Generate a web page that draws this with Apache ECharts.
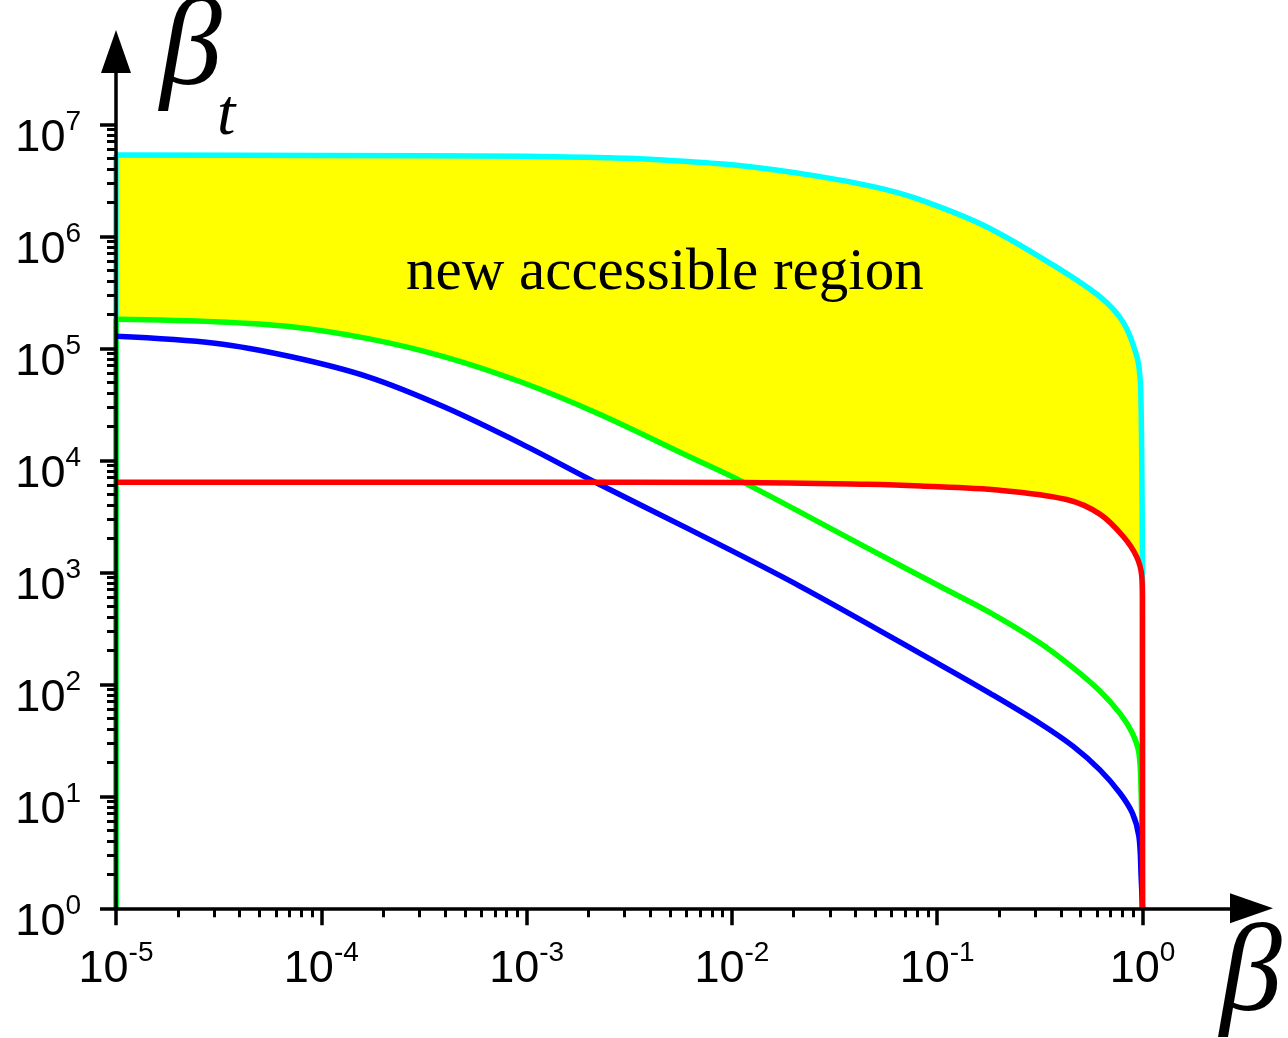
<!DOCTYPE html>
<html>
<head>
<meta charset="utf-8">
<script src="https://cdn.jsdelivr.net/npm/echarts@6/dist/echarts.min.js"></script>
<style>
  html, body { margin: 0; padding: 0; background: #ffffff; }
  #chart { width: 1288px; height: 1038px; }
</style>
</head>
<body>
<div id="chart"></div>
<script>
// Boundary curves in the (β, β_t) plane, each point is [β, β_t]
const cyanCurve = [
  [1e-5, 5.32e6], [1e-4, 5.26e6], [1e-3, 5.2e6], [2.55e-3, 5.02e6], [4e-3, 4.88e6],
  [0.01, 4.35e6], [0.026, 3.45e6], [0.05, 2.75e6], [0.079, 2.18e6], [0.167, 1.26e6],
  [0.355, 5.74e5], [0.62, 2.89e5], [0.81, 1.68e5], [0.94, 8.4e4], [0.975, 5.2e4],
  [0.985, 2.8e4], [0.993, 7.9e3], [0.998, 2.0e3], [0.9995, 630], [1, 1]
];
const greenCurve = [
  [1e-5, 1.82e5], [3.03e-5, 1.73e5], [7.14e-5, 1.56e5], [1.69e-4, 1.22e5], [3.98e-4, 8.4e4],
  [9.4e-4, 5.0e4], [2.21e-3, 2.63e4], [6.18e-3, 1.08e4], [0.0114, 6.35e3], [0.0453, 1.66e3],
  [0.103, 750], [0.181, 437], [0.317, 234], [0.46, 140], [0.62, 87], [0.776, 55],
  [0.892, 36.7], [0.961, 24.3], [0.985, 10.7], [0.997, 3], [1, 1]
];
const blueCurve = [
  [1e-5, 1.28e5], [3.03e-5, 1.11e5], [7.14e-5, 8.4e4], [1.69e-4, 5.56e4], [3.98e-4, 2.99e4],
  [9.4e-4, 1.41e4], [2.21e-3, 6.24e3], [6.18e-3, 2.43e3], [0.0215, 750], [0.103, 150],
  [0.181, 83], [0.317, 44.7], [0.46, 27.9], [0.62, 17.2], [0.776, 10.7], [0.892, 7.1],
  [0.961, 4.37], [0.985, 1.9], [1, 1]
];
const redCurve = [
  [1e-5, 6.38e3], [1e-3, 6.38e3], [0.0114, 6.35e3], [0.0453, 6.1e3], [0.083, 5.89e3],
  [0.202, 5.4e3], [0.427, 4.47e3], [0.62, 3.31e3], [0.806, 2.09e3], [0.936, 1.38e3],
  [0.992, 923], [0.9995, 575], [1, 1]
];

// β where the green and red curves meet (the lower edge of the shaded region switches there)
const crossBeta = 0.0114;

// Decade tick labels
const xMajorTicks = [1e-5, 1e-4, 1e-3, 1e-2, 1e-1, 1];
const yMajorTicks = [1, 10, 100, 1e3, 1e4, 1e5, 1e6, 1e7];

const regionLabel = 'new accessible region';

// Axis ranges (the extra room past the last decade holds the arrow heads)
const X_MIN = 9.999e-6, X_MAX = 3.396;
const Y_MIN = 0.9999, Y_MAX = 4.47e7;

function minorTicks(majors) {
  const out = [];
  for (let i = 0; i < majors.length - 1; i++) {
    for (let k = 2; k <= 9; k++) out.push(k * majors[i]);
  }
  return out;
}

const SANS = '"Liberation Sans", Arial, sans-serif';
const SERIF = '"Liberation Serif", "Times New Roman", serif';

function powLabel(v) {
  const e = Math.round(Math.log10(v));
  return '{b|10}{s|' + e + '}';
}
const powRich = {
  b: { fontSize: 45, lineHeight: 53, fontFamily: SANS, color: '#000', verticalAlign: 'bottom' },
  s: { fontSize: 28, lineHeight: 28, fontFamily: SANS, color: '#000', verticalAlign: 'top' }
};

const axisLineStyle = { color: '#000', width: 3.5 };

function baseAxis(extra) {
  return Object.assign({
    type: 'log',
    logBase: 10,
    gridIndex: 0,
    z: 5,
    splitLine: { show: false },
    minorTick: { show: false },
    minorSplitLine: { show: false }
  }, extra);
}

const chart = echarts.init(document.getElementById('chart'), null, { renderer: 'canvas' });

// Shaded region: upper edge is the cyan curve, lower edge is green up to crossBeta, then red
function fillPoints(api) {
  const upper = cyanCurve.filter(p => p[0] < 1);
  const lowerRed = redCurve.filter(p => p[0] >= crossBeta && p[0] < 1).reverse();
  const lowerGreen = greenCurve.filter(p => p[0] < crossBeta).reverse();
  return upper.concat(lowerRed, lowerGreen).map(p => api.coord(p));
}

function lineSeries(name, data, color, smooth) {
  return {
    name: name,
    type: 'line',
    data: data,
    smooth: smooth,
    showSymbol: false,
    symbol: 'none',
    clip: false,
    z: 3,
    lineStyle: { color: color, width: 5.5, cap: 'butt', join: 'round' },
    emphasis: { disabled: true }
  };
}

chart.setOption({
  animation: false,
  backgroundColor: '#ffffff',
  grid: {
    left: 116, top: 51.5, width: 1135.5, height: 856.8,
    containLabel: false, outerBoundsMode: 'none'
  },
  xAxis: [
    baseAxis({
      position: 'bottom',
      min: X_MIN, max: X_MAX,
      axisLine: { show: true, onZero: false, symbol: ['none', 'triangle'], symbolSize: [30, 43], lineStyle: axisLineStyle },
      axisTick: { show: true, inside: false, length: 17, customValues: xMajorTicks, lineStyle: { color: '#000', width: 3.5 } },
      axisLabel: { show: true, margin: 31, customValues: xMajorTicks, formatter: powLabel, rich: powRich, color: '#000' }
    }),
    baseAxis({
      position: 'bottom',
      min: X_MIN, max: X_MAX,
      axisLine: { show: false, onZero: false },
      axisTick: { show: true, inside: false, length: 9, customValues: minorTicks(xMajorTicks), lineStyle: { color: '#000', width: 3 } },
      axisLabel: { show: false }
    })
  ],
  yAxis: [
    baseAxis({
      position: 'left',
      min: Y_MIN, max: Y_MAX,
      axisLine: { show: true, onZero: false, symbol: ['none', 'triangle'], symbolSize: [30, 43], lineStyle: axisLineStyle },
      axisTick: { show: true, inside: false, length: 16, customValues: yMajorTicks, lineStyle: { color: '#000', width: 3.5 } },
      axisLabel: { show: true, margin: 35, padding: [20, 0, 0, 0], customValues: yMajorTicks, formatter: powLabel, rich: powRich, color: '#000' }
    }),
    baseAxis({
      position: 'left',
      min: Y_MIN, max: Y_MAX,
      axisLine: { show: false, onZero: false },
      axisTick: { show: true, inside: false, length: 9, customValues: minorTicks(yMajorTicks), lineStyle: { color: '#000', width: 3 } },
      axisLabel: { show: false }
    })
  ],
  series: [
    {
      type: 'custom',
      name: 'region',
      xAxisIndex: 0, yAxisIndex: 0,
      z: 1,
      silent: true,
      clip: false,
      data: [[1e-3, 1e5]],
      renderItem: function (params, api) {
        return {
          type: 'polygon',
          shape: { points: fillPoints(api) },
          style: { fill: '#ffff00', stroke: null }
        };
      }
    },
    // vertical left edges at the smallest β
    lineSeries('cyanEdge', [[cyanCurve[0][0], Y_MIN], cyanCurve[0]], '#00ffff', false),
    lineSeries('cyan', cyanCurve, '#00ffff', 0.33),
    lineSeries('greenEdge', [[greenCurve[0][0], Y_MIN], greenCurve[0]], '#00ff00', false),
    lineSeries('green', greenCurve, '#00ff00', 0.33),
    lineSeries('blue', blueCurve, '#0000ff', 0.33),
    lineSeries('red', redCurve, '#ff0000', 0.33)
  ],
  graphic: [
    {
      type: 'text', x: 406, y: 273, z: 10, silent: true,
      style: { text: regionLabel, font: '59px ' + SERIF, fill: '#000', align: 'left', verticalAlign: 'middle' }
    },
    {
      type: 'text', x: 1251, y: 977, z: 10, silent: true,
      style: { text: 'β', font: 'italic 124px ' + SERIF, fill: '#000', align: 'center', verticalAlign: 'middle' }
    },
    {
      type: 'text', x: 191, y: 51, z: 10, silent: true,
      style: { text: 'β', font: 'italic 124px ' + SERIF, fill: '#000', align: 'center', verticalAlign: 'middle' }
    },
    {
      type: 'text', x: 217, y: 117, z: 10, silent: true,
      style: { text: 't', font: 'italic 66px ' + SERIF, fill: '#000', align: 'left', verticalAlign: 'middle' }
    }
  ]
});
</script>
</body>
</html>
